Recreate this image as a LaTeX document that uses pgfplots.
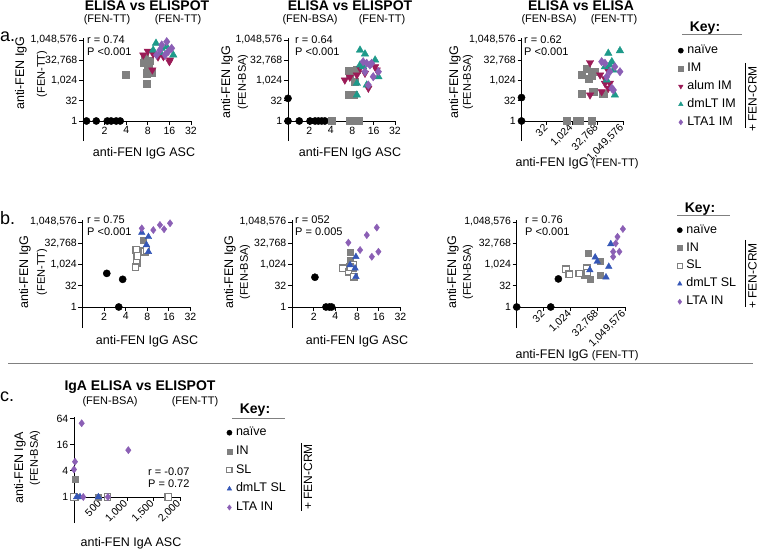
\documentclass[border=0pt]{standalone}
\usepackage{pgfplots}
\pgfplotsset{compat=1.18}
\usepackage{fontspec}
\setmainfont{Liberation Sans}

\definecolor{cgrey}{HTML}{808080}
\definecolor{cmaroon}{HTML}{9B1B57}
\definecolor{cteal}{HTML}{1E9A8A}
\definecolor{cpurple}{HTML}{8B5FB5}
\definecolor{cblue}{HTML}{3557B7}

\newcommand{\tickf}{\fontsize{10.5}{12}\selectfont}
\newcommand{\labf}{\fontsize{12.5}{15}\selectfont}
\newcommand{\subf}{\fontsize{11}{13}\selectfont}
\newcommand{\titf}{\bfseries\fontsize{14}{16}\selectfont}

% values are titres / ASC counts; axes are drawn in log2 units
\pgfplotsset{
  mypanel/.style={
    scale only axis, clip=false, anchor=south west,
    axis y line=left, axis x line=middle,
    axis line style={-, line width=0.9pt},
    every tick/.style={black, line width=0.9pt},
    tick align=outside, major tick length=4pt,
    hide obscured x ticks=false, hide obscured y ticks=false,
    ticklabel style={font=\tickf, inner sep=1.5pt},
    y filter/.expression={ln(y)/ln(2)},
  },
  myigg/.style={ymin=-5, ymax=20.5,
    ytick={0,5,10,15,20},
    yticklabels={1,32,{1,024},{32,768},{1,048,576}}},
  myascx/.style={x filter/.expression={ln(x)/ln(2)}, xmin=0, xmax=5,
    xtick={1,2,3,4,5}, xticklabels={2,4,8,16,32}},
  myelx/.style={x filter/.expression={ln(x)/ln(2)}, xmin=0, xmax=20,
    xtick={5,10,15,20},
    xticklabels={32,{1,024},{32,768},{1,049,576}},
    xticklabel style={rotate=45, anchor=east}},
  mylim/.style={legend image code/.code={\draw[mark repeat=2,mark phase=2,##1,mark size=2.6pt]
      plot coordinates {(0pt,0pt)(5pt,0pt)(10pt,0pt)};}},
  snaive/.style={only marks, mark=*, mark size=3.6pt, black, mylim},
  sim/.style={only marks, mark=square*, mark size=3.6pt, cgrey, mylim},
  salum/.style={only marks, mark=triangle*, mark size=4.3pt, cmaroon, mark options={rotate=180}, mylim},
  sdmlt/.style={only marks, mark=triangle*, mark size=4.3pt, cteal, mylim},
  slta/.style={only marks, mark=diamond*, mark size=4.2pt, cpurple, mylim},
  sinn/.style={only marks, mark=square*, mark size=3pt, cgrey, mylim},
  ssl/.style={only marks, mark=square*, mark size=3.2pt, mark options={draw=cgrey, fill=white, line width=1.3pt}, mylim},
  sdmsl/.style={only marks, mark=triangle*, mark size=3.8pt, cblue, mylim},
  sltain/.style={only marks, mark=diamond*, mark size=3.6pt, cpurple, mylim},
  mykey/.style={legend cell align=left,
    legend style={draw=none, fill=none, font=\labf, row sep=5.9pt, column sep=4pt,
      inner sep=0pt, nodes={inner sep=0pt, text height=9pt, text depth=3pt}}},
}

\begin{document}
\begin{tikzpicture}
\useasboundingbox (0,0) rectangle (758pt,552pt);

% ---------------- panel a ----------------
\begin{axis}[mypanel, myigg, myascx, at={(83pt,410.75pt)}, width=108pt, height=103.3pt]
\addplot[snaive] coordinates {(1.12,1) (1.53,1) (2.18,1) (2.47,1) (2.9,1) (3.3,1)};
\addplot[sim] coordinates {(3.97,2630) (7.07,21600) (8.6,30500) (8.1,14300) (9.07,3860) (7.7,3560) (7.7,630) (7.3,48000)};
\addplot[salum] coordinates {(6.92,80600) (9.5,95300) (16,25500) (13.2,60200) (9.25,6200) (11.1,57000) (16.3,34200) (8.0,150000)};
\addplot[sdmlt] coordinates {(10.4,602000) (12.5,253000) (18.1,80600) (9.5,185000) (14.7,334000) (12,120000)};
\addplot[slta] coordinates {(14.7,784000) (11.8,185000) (10.6,80600) (13.9,80600) (17.2,253000) (12.5,447000) (15.5,150000)};
\end{axis}

\begin{axis}[mypanel, myigg, myascx, at={(288pt,410.75pt)}, width=107pt, height=103.3pt]
\addplot[snaive] coordinates {(1,1) (1.44,1) (2.04,1) (2.4,1) (2.67,1) (2.98,1) (3.3,1) (1,48)};
\addplot[sim] coordinates {(4.1,1) (7.5,1) (8.8,1) (9.7,1) (7.06,5500) (7.4,2600) (8.7,830) (7.06,85) (8.3,85) (9.3,6200)};
\addplot[salum] coordinates {(6.3,1100) (7.4,1780) (9.3,2600) (10.3,8200) (12.1,3500) (13.5,270) (16.8,10800) (17.7,6200)};
\addplot[sdmlt] coordinates {(10.3,185000) (12.1,95300) (16.8,34200) (10.3,14500) (9.3,630) (12.8,470) (18.7,1950) (9.3,85) (11.4,10800)};
\addplot[slta] coordinates {(11.4,25500) (12.8,19500) (14.2,14500) (15.8,1950) (18.7,4600) (13.5,470) (15,19500) (12.1,4600)};
\end{axis}

\begin{axis}[mypanel, myigg, myelx, at={(521.5pt,410.75pt)}, width=101.5pt, height=103.3pt, mykey,
  legend style={at={(axis description cs:1.542,0.937)}, anchor=north west}]
\addplot[snaive] coordinates {(1,1) (1,55)};
\addplot[sim] coordinates {(480,1) (1900,1) (2900,1) (14500,1) (3700,2630) (9400,1450) (14500,2200) (7400,8200) (23000,4600) (3700,113) (18000,150) (70000,113)};
\addplot[salum] coordinates {(11600,21600) (46000,2630) (89000,1450) (114000,8200) (173000,630) (57000,150) (11600,85) (89000,630) (140000,270)};
\addplot[sdmlt] coordinates {(140000,108000) (690000,168000) (89000,10800) (228000,25500) (281000,6200) (345000,85) (114000,1100) (173000,14500)};
\addplot[slta] coordinates {(57000,25500) (89000,19500) (173000,4600) (345000,10800) (690000,4600) (228000,270) (281000,200) (114000,1950)};
\legend{naïve, IM, alum IM, dmLT IM, LTA1 IM}
\end{axis}

% ---------------- panel b ----------------
\begin{axis}[mypanel, myigg, myascx, at={(82.5pt,223.75pt)}, width=108pt, height=108.4pt]
\addplot[snaive] coordinates {(2.18,240) (3.63,91) (3.2,1)};
\addplot[sinn] coordinates {(7.0,57000) (6.9,9700) (7.6,9700)};
\addplot[ssl] coordinates {(5.6,10800) (5.8,4100) (5.7,1370) (5.5,650) (7.4,8200) (7.8,10800)};
\addplot[sdmsl] coordinates {(6.7,185000) (7.8,24800) (8.3,93000) (8.3,8200)};
\addplot[sltain] coordinates {(6.7,370000) (9.7,281000) (12,645000) (13.7,323000) (16.6,850000)};
\end{axis}

\begin{axis}[mypanel, myigg, myascx, at={(292pt,223.75pt)}, width=108.5pt, height=108.4pt]
\addplot[snaive] coordinates {(2.08,128) (2.96,1) (3.3,1) (3.55,1)};
\addplot[sinn] coordinates {(6.5,7000) (6.4,2100) (7.1,550)};
\addplot[ssl] coordinates {(5.1,550) (6.05,315) (7.1,950) (7.2,140) (6.4,650)};
\addplot[sdmsl] coordinates {(6.4,950) (7.7,3600) (7.5,550) (7.7,140)};
\addplot[sltain] coordinates {(6.05,36000) (8.8,10800) (10.9,123000) (15,420000) (12.8,3600) (15.8,8200)};
\end{axis}

\begin{axis}[mypanel, myigg, myelx, at={(516.7pt,223.75pt)}, width=108.3pt, height=108.4pt, mykey,
  legend style={at={(axis description cs:1.48,0.962)}, anchor=north west}]
\addplot[snaive] coordinates {(1,1) (78,1) (207,97)};
\addplot[sinn] coordinates {(9600,6300) (11600,97) (5800,180) (43000,1650) (46000,180)};
\addplot[ssl] coordinates {(550,470) (830,210) (3000,240) (7800,550) (8200,270)};
\addplot[sdmsl] coordinates {(11600,420) (23000,3300) (30000,1650) (92000,128) (131000,720) (170000,29000)};
\addplot[sltain] coordinates {(230000,3600) (230000,8200) (320000,32000) (400000,93000) (510000,8200) (800000,334000)};
\legend{naïve, IN, SL, dmLT SL, LTA IN}
\end{axis}

% ---------------- panel c ----------------
\begin{axis}[mypanel, at={(74pt,28.9pt)}, width=106pt, height=105.8pt,
  xmin=0, xmax=2000, ymin=-2, ymax=6.1,
  xtick={500,1000,1500,2000}, xticklabels={500,{1,000},{1,500},{2,000}},
  xticklabel style={rotate=45, anchor=east},
  ytick={0,2,4,6}, yticklabels={1,4,16,64}, mykey,
  legend style={at={(axis description cs:1.44,0.913)}, anchor=north west, row sep=6.7pt}]
\addplot[snaive] coordinates {(0,1)};
\addplot[sinn] coordinates {(19,2.6) (19,1) (460,1)};
\addplot[ssl] coordinates {(0,1) (630,1) (1780,1)};
\addplot[sdmsl] coordinates {(50,1) (113,1) (460,1)};
\addplot[sltain] coordinates {(145,50) (19,6.5) (0,4.3) (1025,12) (175,1) (640,1)};
\legend{naïve, IN, SL, dmLT SL, LTA IN}
\end{axis}

% ---------------- text ----------------
\begin{scope}[x=1pt, y=1pt, every node/.style={inner sep=0pt}]
\node[font=\fontsize{18}{20}\selectfont, anchor=base west] at (0,510) {a.};
\node[font=\fontsize{18}{20}\selectfont, anchor=base west] at (0,327) {b.};
\node[font=\fontsize{18}{20}\selectfont, anchor=base west] at (0,150) {c.};

\node[font=\titf] at (147,546) {ELISA vs ELISPOT};
\node[font=\subf] at (107,532) {(FEN-TT)};
\node[font=\subf] at (178,532) {(FEN-TT)};
\node[font=\titf] at (350,546) {ELISA vs ELISPOT};
\node[font=\subf] at (310,532) {(FEN-BSA)};
\node[font=\subf] at (382,532) {(FEN-TT)};
\node[font=\titf] at (581,546) {ELISA vs ELISA};
\node[font=\subf] at (549,532) {(FEN-BSA)};
\node[font=\subf] at (614,532) {(FEN-TT)};
\node[font=\titf] at (140,165) {IgA ELISA vs ELISPOT};
\node[font=\subf] at (110,150) {(FEN-BSA)};
\node[font=\subf] at (195,150) {(FEN-TT)};

\node[font=\subf, anchor=west] at (87,512) {r = 0.74};
\node[font=\subf, anchor=west] at (87,500.3) {P <0.001};
\node[font=\subf, anchor=west] at (295,512) {r = 0.64};
\node[font=\subf, anchor=west] at (295,500.3) {P <0.001};
\node[font=\subf, anchor=west] at (524,512) {r = 0.62};
\node[font=\subf, anchor=west] at (524,500.3) {P <0.001};
\node[font=\subf, anchor=west] at (87,332) {r = 0.75};
\node[font=\subf, anchor=west] at (87,320.5) {P <0.001};
\node[font=\subf, anchor=west] at (295,332) {r = 052};
\node[font=\subf, anchor=west] at (295,320.5) {P = 0.005};
\node[font=\subf, anchor=west] at (525,332) {r = 0.76};
\node[font=\subf, anchor=west] at (525,320.5) {P <0.001};
\node[font=\subf, anchor=west] at (148,80.3) {r = -0.07};
\node[font=\subf, anchor=west] at (148,68.7) {P = 0.72};

\node[font=\labf, rotate=90] at (21,479) {anti-FEN IgG};
\node[font=\subf, rotate=90] at (42,478) {(FEN-TT)};
\node[font=\labf, rotate=90] at (227,470) {anti-FEN IgG};
\node[font=\subf, rotate=90] at (243,470) {(FEN-BSA)};
\node[font=\labf, rotate=90] at (455,470) {anti-FEN IgG};
\node[font=\subf, rotate=90] at (468,470) {(FEN-BSA)};
\node[font=\labf, rotate=90] at (25,280) {anti-FEN IgG};
\node[font=\subf, rotate=90] at (42,280) {(FEN-TT)};
\node[font=\labf, rotate=90] at (230,280) {anti-FEN IgG};
\node[font=\subf, rotate=90] at (245,280) {(FEN-BSA)};
\node[font=\labf, rotate=90] at (453,280) {anti-FEN IgG};
\node[font=\subf, rotate=90] at (468,280) {(FEN-BSA)};
\node[font=\labf, rotate=90] at (20,84) {anti-FEN IgA};
\node[font=\subf, rotate=90] at (35,94) {(FEN-BSA)};

\node[font=\labf] at (144,399) {anti-FEN IgG ASC};
\node[font=\labf] at (350,399) {anti-FEN IgG ASC};
\node[font=\labf] at (577,389) {anti-FEN IgG {\subf(FEN-TT)}};
\node[font=\labf] at (147,211) {anti-FEN IgG ASC};
\node[font=\labf] at (357,211) {anti-FEN IgG ASC};
\node[font=\labf] at (577,197) {anti-FEN IgG {\subf(FEN-TT)}};
\node[font=\labf] at (131,9) {anti-FEN IgA ASC};

% keys
\node[font=\titf] at (705,524) {Key:};
\draw[cgrey, line width=1pt] (682,517) -- (742,517);
\draw[line width=0.9pt] (745,489) -- (745,424);
\node[font=\fontsize{12}{14}\selectfont, rotate=90] at (752.5,453) {+ FEN-CRM};

\node[font=\titf] at (700,343) {Key:};
\draw[cgrey, line width=1pt] (677,336) -- (730,336);
\draw[line width=0.9pt] (745,312) -- (745,245);
\node[font=\fontsize{12}{14}\selectfont, rotate=90] at (752.5,276) {+ FEN-CRM};

\node[font=\titf] at (255,142) {Key:};
\draw[cgrey, line width=1pt] (232,133) -- (285,133);
\draw[line width=0.9pt] (301,109) -- (301,41);
\node[font=\fontsize{12}{14}\selectfont, rotate=90] at (308,75) {+ FEN-CRM};

\draw[cgrey, line width=1pt] (8,188) -- (753,188);
\end{scope}
\end{tikzpicture}
\end{document}
